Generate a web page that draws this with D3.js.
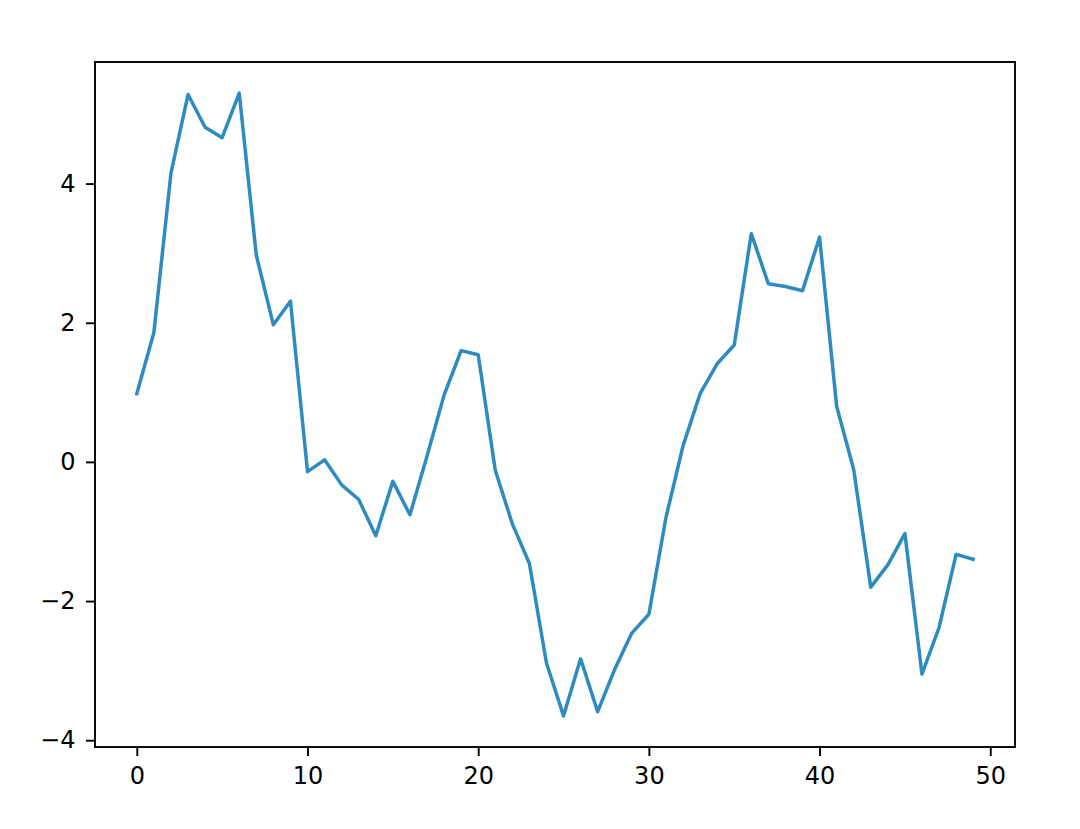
<!DOCTYPE html>
<html>
<head>
<meta charset="utf-8">
<script src="https://cdn.jsdelivr.net/npm/d3@7"></script>
<style>
  body { margin: 0; background: #fff; }
  svg { display: block; }
  .tick text { font-family: "DejaVu Sans", sans-serif; font-size: 24px; fill: #000; }
</style>
</head>
<body>
<div id="chart"></div>
<script>
// values, one per x = 0..49
const xValues = d3.range(0, 50);
const yValues = [
    0.98, 1.86, 4.15, 5.28, 4.81, 4.66, 5.30, 2.97, 1.97, 2.31,
    -0.14, 0.03, -0.33, -0.54, -1.06, -0.28, -0.76, 0.08, 0.96, 1.60,
    1.54, -0.12, -0.89, -1.46, -2.89, -3.65, -2.83, -3.59, -2.98, -2.46,
    -2.19, -0.80, 0.23, 0.98, 1.41, 1.68, 3.28, 2.56, 2.52, 2.46,
    3.23, 0.80, -0.11, -1.80, -1.48, -1.03, -3.05, -2.38, -1.33, -1.40
];
const xTicks = [0, 10, 20, 30, 40, 50];
const yTicks = [-4, -2, 0, 2, 4];

const width = 1080, height = 829;
const margin = { top: 62, right: 65, bottom: 82, left: 95 };

const svg = d3.select("#chart")
    .append("svg")
    .attr("width", width)
    .attr("height", height);

svg.append("rect")
    .attr("width", width)
    .attr("height", height)
    .attr("fill", "#fff");

// matplotlib style 5% padding around data
function padded(ext) {
    const p = (ext[1] - ext[0]) * 0.05;
    return [ext[0] - p, ext[1] + p];
}

const xScale = d3.scaleLinear()
    .domain(padded(d3.extent(xValues)))
    .range([margin.left, width - margin.right]);

const yScale = d3.scaleLinear()
    .domain(padded(d3.extent(yValues)))
    .range([height - margin.bottom, margin.top]);

const line = d3.line()
    .x((d, i) => xScale(xValues[i]))
    .y(d => yScale(d));

svg.append("path")
    .datum(yValues)
    .attr("d", line)
    .attr("fill", "none")
    .attr("stroke", "#2e8bc0")
    .attr("stroke-width", 3.5)
    .attr("stroke-linejoin", "round")
    .attr("stroke-linecap", "square");

// axes
const xAxis = svg.append("g")
    .attr("transform", "translate(0," + (height - margin.bottom) + ")")
    .call(d3.axisBottom(xScale).tickValues(xTicks).tickSize(9).tickPadding(11).tickFormat(d3.format("d")));

const yAxis = svg.append("g")
    .attr("transform", "translate(" + margin.left + ",0)")
    .call(d3.axisLeft(yScale).tickValues(yTicks).tickSize(9).tickPadding(10.5).tickFormat(d3.format("d")));

[xAxis, yAxis].forEach(g => {
    g.select(".domain").remove();
    g.selectAll(".tick line").attr("stroke", "#000").attr("stroke-width", 1.9);
});

// box around the plot
svg.append("rect")
    .attr("x", margin.left)
    .attr("y", margin.top)
    .attr("width", width - margin.left - margin.right)
    .attr("height", height - margin.top - margin.bottom)
    .attr("fill", "none")
    .attr("stroke", "#000")
    .attr("stroke-width", 1.9);
</script>
</body>
</html>
